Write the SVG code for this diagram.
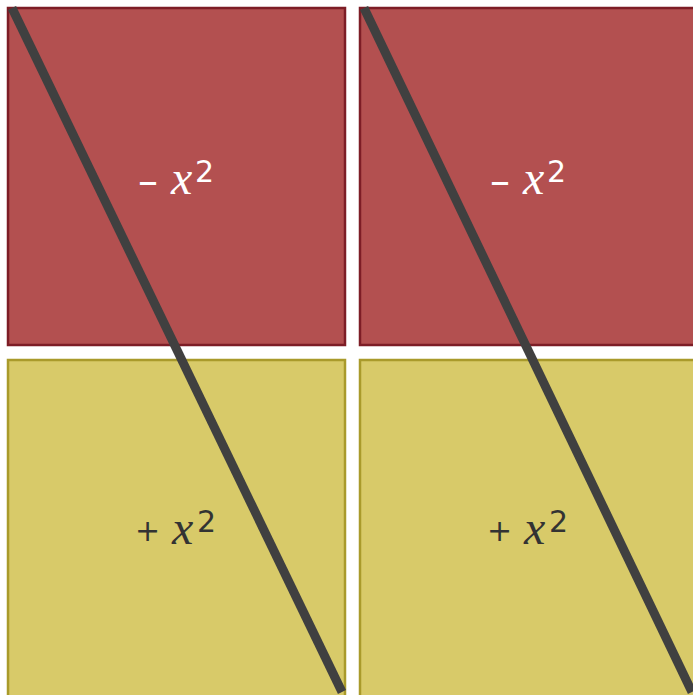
<svg xmlns="http://www.w3.org/2000/svg" width="693" height="695" viewBox="0 0 693 695">
<style>
.neg{fill:#b35050;stroke:#7d1d26;stroke-width:2.5}
.pos{fill:#d8ca69;stroke:#a99a2b;stroke-width:2.5}
.cut{stroke:#404040;stroke-width:9;stroke-linecap:butt;fill:none}
.mn{font-size:40px;font-family:"DejaVu Sans",sans-serif}
.pl{font-size:30px;font-family:"DejaVu Sans",sans-serif}
.x{font-family:"Liberation Serif",serif;font-style:italic;font-size:48px}
.sup{font-family:"DejaVu Sans",sans-serif;font-size:30px}
.w{fill:#ffffff}
.d{fill:#333333}
</style>
<rect width="693" height="695" fill="#ffffff"/>
<g id="neg-left"><rect class="neg" x="8" y="8" width="337" height="337"/>
<text class="w" y="194"><tspan class="mn" x="138" y="195">–</tspan><tspan class="x" x="171" y="194">x</tspan><tspan class="sup" x="195" y="182">2</tspan></text></g>
<g id="neg-right"><rect class="neg" x="360" y="8" width="337" height="337"/>
<text class="w" y="194"><tspan class="mn" x="490" y="195">–</tspan><tspan class="x" x="523" y="194">x</tspan><tspan class="sup" x="547" y="182">2</tspan></text></g>
<g id="pos-left"><rect class="pos" x="8" y="360" width="337" height="340"/>
<text class="d" y="544"><tspan class="pl" x="135" y="541">+</tspan><tspan class="x" x="172" y="544">x</tspan><tspan class="sup" x="197" y="532">2</tspan></text></g>
<g id="pos-right"><rect class="pos" x="360" y="360" width="337" height="340"/>
<text class="d" y="544"><tspan class="pl" x="487" y="541">+</tspan><tspan class="x" x="524" y="544">x</tspan><tspan class="sup" x="549" y="532">2</tspan></text></g>
<g id="connectors">
<line class="cut" x1="12" y1="8" x2="342" y2="692"/>
<line class="cut" x1="364" y1="8" x2="692" y2="692"/>
</g>
</svg>
